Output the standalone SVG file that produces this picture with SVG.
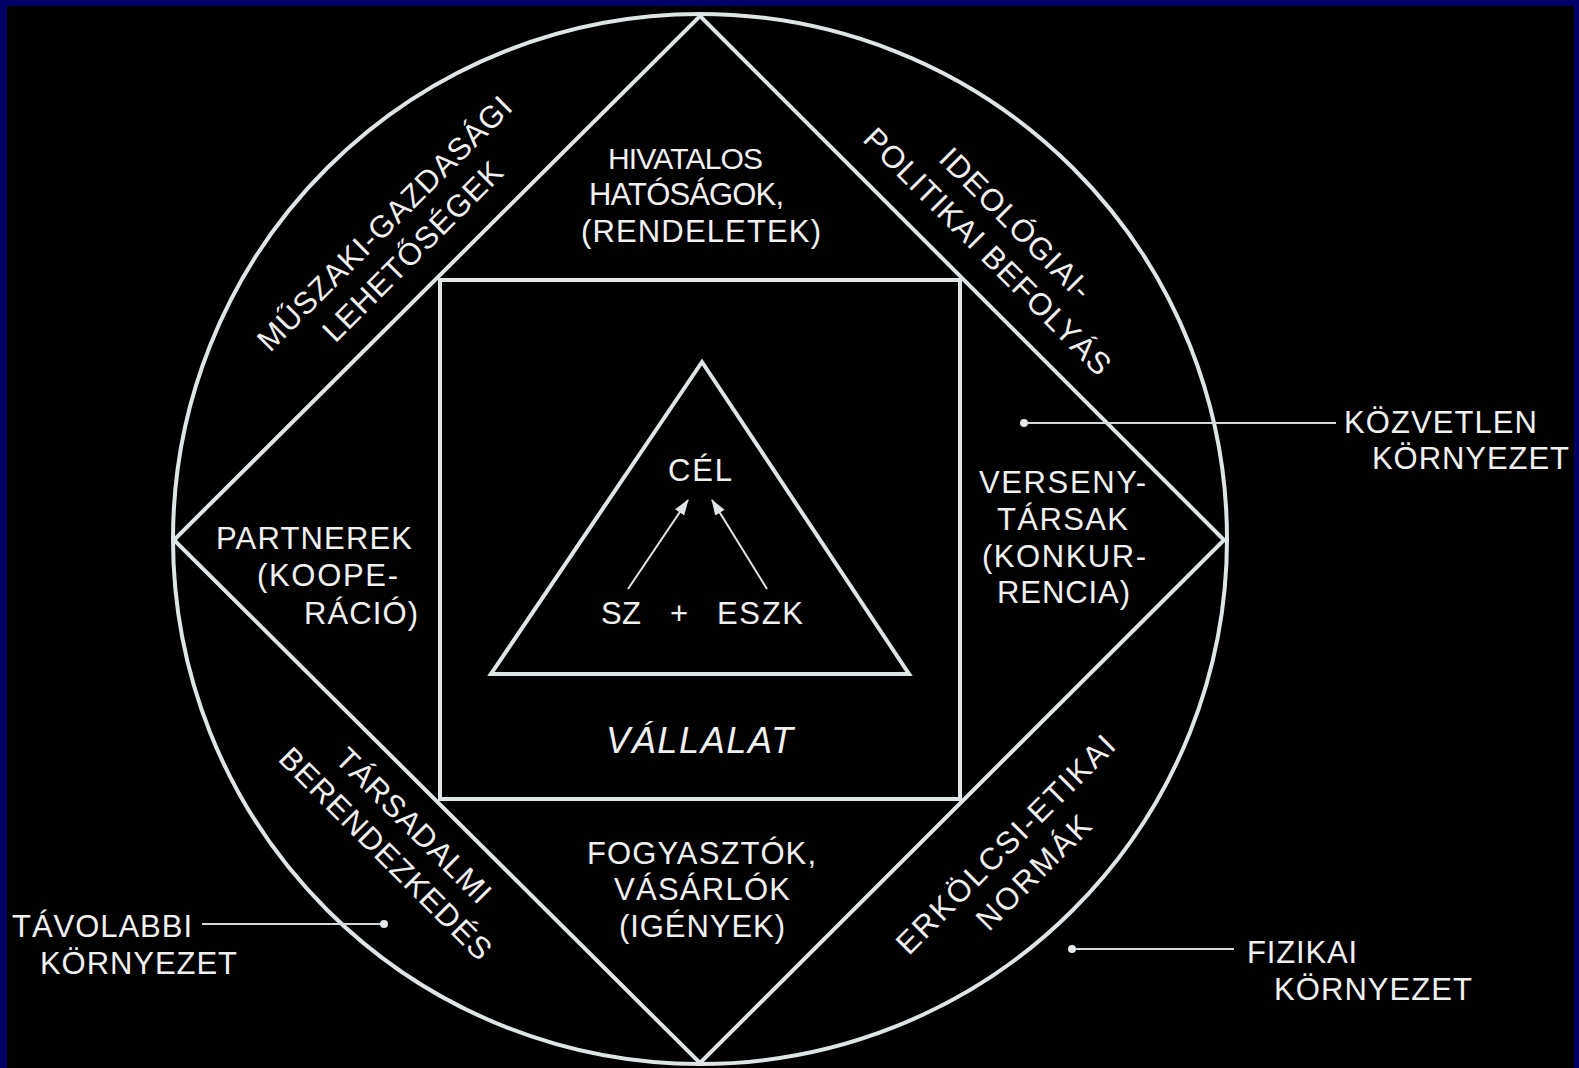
<svg xmlns="http://www.w3.org/2000/svg" width="1579" height="1068" viewBox="0 0 1579 1068">
<style>
.ln{fill:none;stroke:#dfe4e6;stroke-width:4}
.t{font-family:"Liberation Sans",Arial,sans-serif;font-size:31px;fill:#f0f0f0}
.m{text-anchor:middle}
.lead{stroke:#d4d8da;stroke-width:2;fill:none}
.dot{fill:#e4e8ea}
.arr{stroke:#dfe4e6;stroke-width:2;fill:none;marker-end:url(#ah)}
</style>
<defs>
<marker id="ah" markerUnits="userSpaceOnUse" markerWidth="16" markerHeight="12" viewBox="0 0 16 12" refX="15" refY="6" orient="auto"><path d="M0,0.5 L16,6 L0,11.5 z" fill="#dfe4e6"/></marker>
</defs>
<rect x="0" y="0" width="1579" height="1068" fill="#000066"/>
<rect x="7" y="6" width="1567" height="1062" fill="#000"/>

<g id="fizikai-kornyezet">
<ellipse class="ln" cx="700" cy="539" rx="527" ry="525" stroke-width="5"/>
</g>
<g id="tavolabbi-kornyezet">
<polygon class="ln" points="700,16 1224,540 700,1063 174,540"/>
</g>
<g id="kozvetlen-kornyezet">
<rect class="ln" x="440" y="280" width="520" height="519"/>
</g>
<g id="vallalat">
<polygon class="ln" points="702,362 909,674 491,674" stroke-width="5"/>
</g>

<g id="connectors">
<line class="arr" x1="628" y1="589" x2="688" y2="500"/>
<line class="arr" x1="767" y1="589" x2="712" y2="500"/>
<line class="lead" x1="1024" y1="423" x2="1336" y2="423"/>
<circle class="dot" cx="1024" cy="423" r="4"/>
<line class="lead" x1="202" y1="924" x2="384" y2="924"/>
<circle class="dot" cx="384" cy="924" r="4"/>
<line class="lead" x1="1072" y1="949" x2="1234" y2="949"/>
<circle class="dot" cx="1072" cy="949" r="4"/>
</g>

<g id="label-hivatalos">
<text class="t" x="608" y="169" textLength="155" style="font-size:30px">HIVATALOS</text>
<text class="t" x="589" y="205" textLength="195">HATÓSÁGOK,</text>
<text class="t" x="581" y="242" textLength="240">(RENDELETEK)</text>
</g>
<g id="label-partnerek">
<text class="t" x="216" y="549" textLength="196">PARTNEREK</text>
<text class="t" x="257" y="586" textLength="141">(KOOPE-</text>
<text class="t" x="304" y="624" textLength="114">RÁCIÓ)</text>
</g>
<g id="label-versenytarsak">
<text class="t" x="979" y="493" textLength="167">VERSENY-</text>
<text class="t" x="997" y="530" textLength="131">TÁRSAK</text>
<text class="t" x="982" y="567" textLength="164">(KONKUR-</text>
<text class="t" x="997" y="603" textLength="133">RENCIA)</text>
</g>
<g id="label-fogyasztok">
<text class="t" x="587" y="864" textLength="229">FOGYASZTÓK,</text>
<text class="t" x="614" y="900" textLength="176">VÁSÁRLÓK</text>
<text class="t" x="619" y="937" textLength="166">(IGÉNYEK)</text>
</g>
<g id="label-cel">
<text class="t" x="668" y="481" textLength="64">CÉL</text>
<text class="t" x="601" y="624" textLength="40">SZ</text>
<text class="t" x="670" y="624">+</text>
<text class="t" x="717" y="624" textLength="86">ESZK</text>
<text class="t" x="606" y="753" textLength="187" style="font-size:36px;font-style:italic">VÁLLALAT</text>
</g>
<g id="label-muszaki">
<text class="t m" transform="translate(392,231) rotate(-45)" textLength="345">MŰSZAKI-GAZDASÁGI</text>
<text class="t m" transform="translate(420,259) rotate(-45)" textLength="240">LEHETŐSÉGEK</text>
</g>
<g id="label-ideologiai">
<text class="t m" transform="translate(1008,231) rotate(45)" textLength="200">IDEOLÓGIAI-</text>
<text class="t m" transform="translate(980,259) rotate(45)" textLength="335">POLITIKAI BEFOLYÁS</text>
</g>
<g id="label-tarsadalmi">
<text class="t m" transform="translate(406,833) rotate(45)" textLength="205">TÁRSADALMI</text>
<text class="t m" transform="translate(378,861) rotate(45)" textLength="286">BERENDEZKEDÉS</text>
</g>
<g id="label-erkolcsi">
<text class="t m" transform="translate(1013,852) rotate(-45)" textLength="295">ERKÖLCSI-ETIKAI</text>
<text class="t m" transform="translate(1041,880) rotate(-45)" textLength="148">NORMÁK</text>
</g>
<g id="label-kozvetlen">
<text class="t" x="1344" y="433" textLength="193">KÖZVETLEN</text>
<text class="t" x="1372" y="469" textLength="197">KÖRNYEZET</text>
</g>
<g id="label-tavolabbi">
<text class="t" x="12" y="937" textLength="180">TÁVOLABBI</text>
<text class="t" x="40" y="974" textLength="197">KÖRNYEZET</text>
</g>
<g id="label-fizikai">
<text class="t" x="1247" y="963" textLength="110">FIZIKAI</text>
<text class="t" x="1274" y="1000" textLength="198">KÖRNYEZET</text>
</g>
</svg>
